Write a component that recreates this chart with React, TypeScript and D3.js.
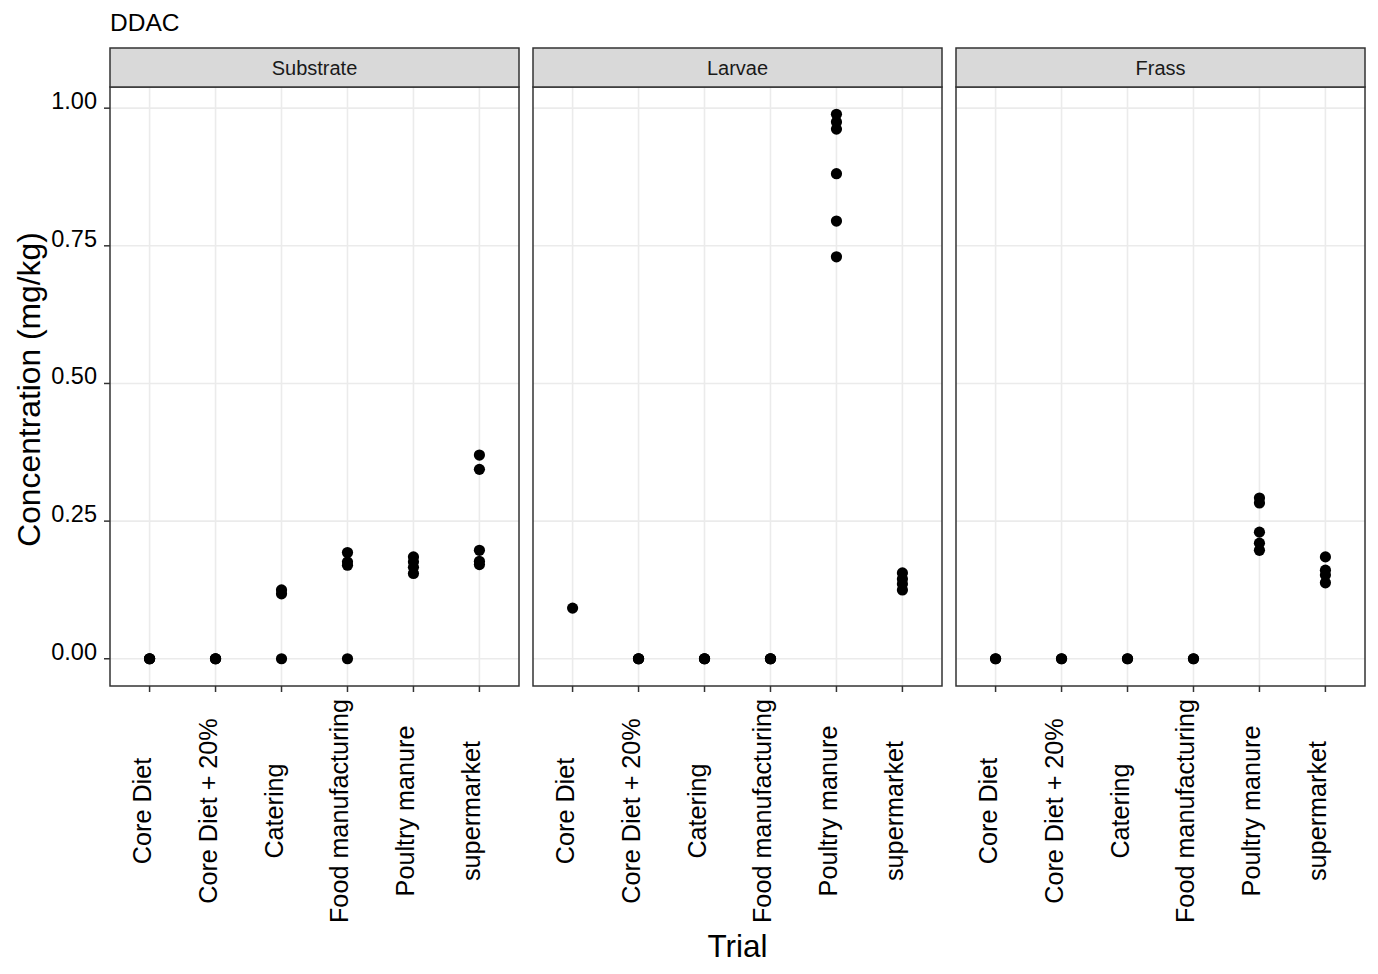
import React from 'react'
import * as d3 from 'd3'

const trials = ['Core Diet', 'Core Diet + 20%', 'Catering', 'Food manufacturing', 'Poultry manure', 'supermarket']
const matrices = ['Substrate', 'Larvae', 'Frass']

// concentration (mg/kg) per trial
const substrateValues = [
  [0, 0, 0],
  [0, 0, 0],
  [0.125, 0.118, 0],
  [0.193, 0.176, 0.17, 0],
  [0.185, 0.176, 0.166, 0.155],
  [0.37, 0.344, 0.197, 0.177, 0.171]
]
const larvaeValues = [
  [0.092],
  [0, 0, 0],
  [0, 0, 0],
  [0, 0, 0],
  [0.989, 0.975, 0.962, 0.881, 0.795, 0.73],
  [0.156, 0.145, 0.136, 0.125]
]
const frassValues = [
  [0, 0],
  [0, 0],
  [0, 0],
  [0, 0],
  [0.292, 0.283, 0.23, 0.21, 0.197],
  [0.185, 0.161, 0.152, 0.138]
]
const yTicks = [0, 0.25, 0.5, 0.75, 1]

const W = 1378
const H = 974
const font = '"Liberation Sans", Arial, sans-serif'

export default function App() {
  const panelW = 409
  const gap = 14
  const left = 110
  const top = 87
  const bottom = 686
  const stripTop = 48

  const series = [substrateValues, larvaeValues, frassValues]
  const all = series.flat(2)
  const [lo, hi] = d3.extent(all) as [number, number]
  const pad = (hi - lo) * 0.05

  const y = d3.scaleLinear().domain([lo - pad, hi + pad]).range([bottom, top])
  const x = d3.scalePoint<string>().domain(trials).range([0, panelW]).padding(0.6)
  const fmt = d3.format('.2f')

  return (
    <svg width={W} height={H} style={{ display: 'block', position: 'absolute', left: 0, top: 0, background: '#fff' }} fontFamily={font}>
      <rect width={W} height={H} fill="#fff" />
      <text x={110} y={31} fontSize={24.5}>DDAC</text>

      {/* y axis */}
      {yTicks.map((t) => (
        <g key={t}>
          <line x1={left - 6} x2={left} y1={y(t)} y2={y(t)} stroke="#333" strokeWidth={1.5} />
          <text x={97} y={y(t) + 1} fontSize={23.5} textAnchor="end" fill="#000">{fmt(t)}</text>
        </g>
      ))}
      <text transform={`translate(40,${(top + bottom) / 2 + 3}) rotate(-90)`} textAnchor="middle" fontSize={31.8}>
        Concentration (mg/kg)
      </text>

      {matrices.map((m, i) => {
        const x0 = left + i * (panelW + gap)
        return (
          <g key={m} transform={`translate(${x0},0)`}>
            <rect x={0} y={top} width={panelW} height={bottom - top} fill="#fff" />
            {yTicks.map((t) => (
              <line key={t} x1={0} x2={panelW} y1={y(t)} y2={y(t)} stroke="#EBEBEB" strokeWidth={1.6} />
            ))}
            {trials.map((c) => (
              <line key={c} x1={x(c)} x2={x(c)} y1={top} y2={bottom} stroke="#EBEBEB" strokeWidth={1.6} />
            ))}
            {series[i].map((vals, j) =>
              vals.map((v, k) => (
                <circle key={`${j}-${k}`} cx={x(trials[j])} cy={y(v)} r={5.6} fill="#000" />
              ))
            )}
            <rect x={0} y={top} width={panelW} height={bottom - top} fill="none" stroke="#333" strokeWidth={1.5} />
            <rect x={0} y={stripTop} width={panelW} height={top - stripTop} fill="#D9D9D9" stroke="#333" strokeWidth={1.5} />
            <text x={panelW / 2} y={74.5} textAnchor="middle" fontSize={20} fill="#1a1a1a">{m}</text>
            {trials.map((c) => (
              <g key={c}>
                <line x1={x(c)} x2={x(c)} y1={bottom} y2={bottom + 6} stroke="#333" strokeWidth={1.5} />
                <text transform={`translate(${(x(c) as number) + 1},811) rotate(-90)`} textAnchor="middle" fontSize={25.2} fill="#000">
                  {c}
                </text>
              </g>
            ))}
          </g>
        )
      })}

      <text x={(left + left + 3 * panelW + 2 * gap) / 2} y={957} textAnchor="middle" fontSize={31.5}>Trial</text>
    </svg>
  )
}
